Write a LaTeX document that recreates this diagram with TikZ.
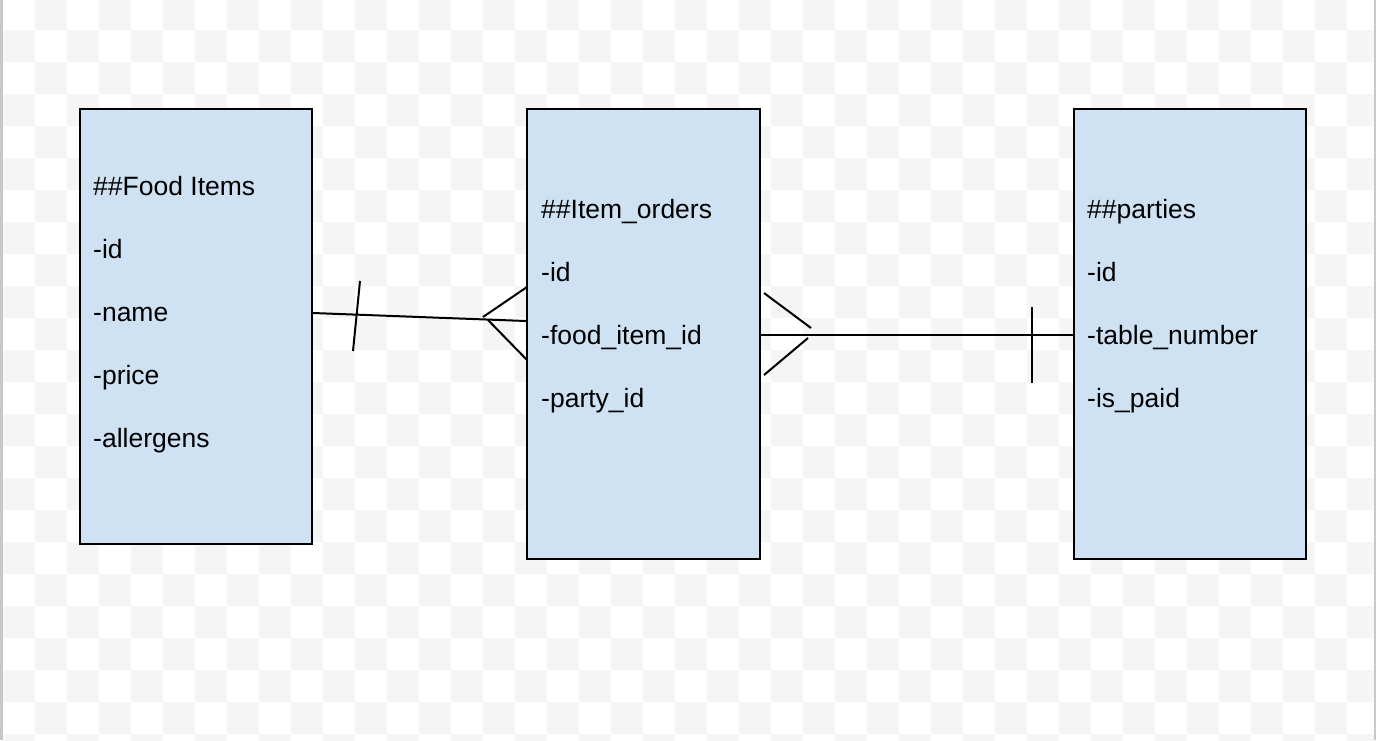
\documentclass[tikz,border=0pt]{standalone}
\usepackage{fontspec}
\setmainfont{Liberation Sans}
\usepackage{xcolor}
\usepackage{tikz}
\definecolor{tablefill}{RGB}{207,226,243}
\definecolor{checkgray}{RGB}{245,245,245}
\definecolor{framegray}{RGB}{200,200,200}

\begin{document}
\begin{tikzpicture}[x=1pt,y=-1pt,
  table/.style={draw=black,line width=2pt,fill=tablefill,rectangle,inner sep=0pt},
  field/.style={anchor=base west,inner sep=0pt,font=\fontsize{26.5}{30}\selectfont},
  link/.style={line width=2pt,black}]
\useasboundingbox (0,0) rectangle (1378,740);
\fill[white] (0,0) rectangle (1378,740);

%checker background
\begin{scope}
\clip (3,0) rectangle (1374,740);
\foreach \i in {0,...,43} {
  \foreach \j in {0,...,23} {
    \pgfmathparse{int(mod(\i+\j,2))}
    \ifnum\pgfmathresult=1
      \fill[checkgray] (3+32*\i,-2+32*\j) rectangle ++(32,32);
    \fi
  }
}
\end{scope}
\fill[framegray] (0,0) rectangle (3,740);
\fill[framegray] (1374,0) rectangle (1376,740);

\node[table,minimum width=232,minimum height=435] (foods) at (196,326.5) {};
\node[table,minimum width=233,minimum height=450] (orders) at (643.5,334) {};
\node[table,minimum width=232,minimum height=450] (parties) at (1190,334) {};

\node[field] (foodsT) at (93,195) {\#\#Food Items};
\node[field] (foodsA) at (93,258) {-id};
\node[field] (foodsB) at (93,321) {-name};
\node[field] (foodsC) at (93,384) {-price};
\node[field] (foodsD) at (93,447) {-allergens};

\node[field] (ordersT) at (541,218) {\#\#Item\_orders};
\node[field] (ordersA) at (541,281) {-id};
\node[field] (ordersB) at (541,344) {-food\_item\_id};
\node[field] (ordersC) at (541,407) {-party\_id};

\node[field] (partiesT) at (1087,218) {\#\#parties};
\node[field] (partiesA) at (1087,281) {-id};
\node[field] (partiesB) at (1087,344) {-table\_number};
\node[field] (partiesC) at (1087,407) {-is\_paid};

% food items -> item orders
\draw[link] ([yshift=13.5pt]foods.east) -- ([yshift=13pt]orders.west);
\draw[link] (360,281) -- (353,351);
\draw[link] (527,287) -- (483,317);
\draw[link] (488,320) -- (527,360);

% item orders -> parties
\draw[link] ([yshift=-1pt]orders.east) -- ([yshift=-1pt]parties.west);
\draw[link] (764,293) -- (811,328);
\draw[link] (808,338) -- (764,375);
\draw[link] (1032,307) -- (1032,383);

\end{tikzpicture}
\end{document}
